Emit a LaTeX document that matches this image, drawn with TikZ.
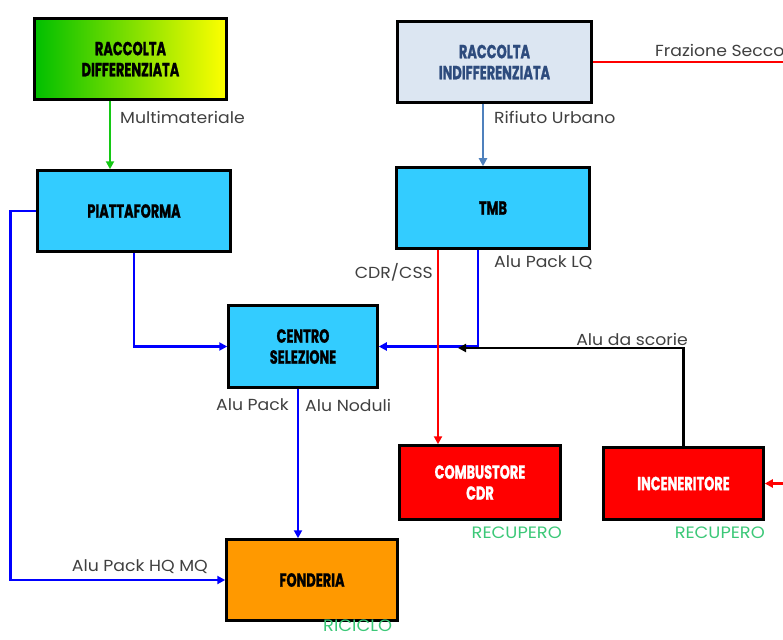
\documentclass[tikz,border=0pt]{standalone}
\usepackage{fontspec}
\setmainfont{Poppins}
\newfontfamily\boxfont{Poppins}[FakeStretch=0.68, FakeBold=1]
\newfontfamily\lblfont{Poppins}[FakeStretch=1.08]
\usetikzlibrary{arrows.meta,calc}
\definecolor{celeste}{RGB}{51,204,255}
\definecolor{grigioblu}{RGB}{220,230,242}
\definecolor{blunotte}{RGB}{45,75,125}
\definecolor{arancio}{RGB}{255,153,0}
\definecolor{verdefreccia}{RGB}{20,200,20}
\definecolor{bluacciaio}{RGB}{79,129,189}
\definecolor{grigiotesto}{RGB}{64,64,64}
\definecolor{verdeesito}{RGB}{60,200,120}
\begin{document}
\begin{tikzpicture}[x=1pt, y=-1pt, >={Triangle[length=8pt,width=8pt]},
  box/.style={draw=black, line width=2.5pt, align=center, inner sep=0pt, font=\boxfont\bfseries\fontsize{19}{21}\selectfont},
  lbl/.style={text=grigiotesto, inner sep=0pt, font=\lblfont\fontsize{16}{18}\selectfont},
  esito/.style={text=verdeesito, inner sep=0pt, font=\lblfont\fontsize{16.5}{18}\selectfont},
  flow/.style={line width=2.5pt}]
\useasboundingbox (0,0) rectangle (783,639);
\node[box, left color=green!75!black, right color=yellow, minimum width=192pt, minimum height=81pt] (diff) at (130.5,59) {RACCOLTA\\DIFFERENZIATA};
\node[box, fill=grigioblu, text=blunotte, minimum width=194pt, minimum height=81pt] (indiff) at (494.5,62) {RACCOLTA\\INDIFFERENZIATA};
\node[box, fill=celeste, minimum width=193pt, minimum height=81pt] (piatt) at (134,211) {PIATTAFORMA};
\node[box, fill=celeste, minimum width=193pt, minimum height=81pt] (tmb) at (493,208) {TMB};
\node[box, fill=celeste, minimum width=149pt, minimum height=82pt] (centro) at (303,346.5) {CENTRO\\SELEZIONE};
\node[box, fill=red, text=white, minimum width=161pt, minimum height=74pt] (comb) at (480,482.5) {COMBUSTORE\\CDR};
\node[box, fill=red, text=white, minimum width=160pt, minimum height=72pt] (incen) at (683.5,483.5) {INCENERITORE};
\node[box, fill=arancio, minimum width=171pt, minimum height=81pt] (fond) at (312,580) {FONDERIA};
\coordinate (m1) at ($(diff.south)+(-20.5,0)$);
\coordinate (r1) at ($(indiff.south)+(-11.5,0)$);
\coordinate (t1) at ($(tmb.south)+(-55,0)$);
\coordinate (t2) at ($(tmb.south)+(-15,0)$);
\coordinate (c1) at ($(centro.south)+(-5,0)$);
\coordinate (p1) at ($(piatt.west)+(-26,0)$);
\coordinate (secco) at (790,62);
\coordinate (secco2) at (790,483.5);
\coordinate (scorie) at (458,348);
\draw[flow, verdefreccia, ->] (m1) -- (m1 |- piatt.north);
\draw[flow, bluacciaio, ->] (r1) -- (r1 |- tmb.north);
\draw[flow, red] (indiff.east) -- (secco);
\draw[flow, red, ->] (secco2) -- (incen.east);
\draw[flow, blue, ->] (piatt.west) -- (p1) |- (fond.west);
\draw[flow, blue, ->] (piatt.south) |- (centro.west);
\draw[flow, blue, ->] (t2) |- (centro.east);
\draw[flow, black, ->] (incen.north) |- (scorie);
\draw[flow, red, ->] (t1) -- (t1 |- comb.north);
\draw[flow, blue, ->] (c1) -- (c1 |- fond.north);
\node[lbl, anchor=west] (l1) at (120,117) {Multimateriale};
\node[lbl, anchor=west] (l2) at (494,117) {Rifiuto Urbano};
\node[lbl, anchor=west] (l3) at (655,50) {Frazione Secco};
\node[lbl, anchor=east] (l4) at (433,272) {CDR/CSS};
\node[lbl, anchor=west] (l5) at (494,263) {Alu Pack LQ};
\node[lbl, anchor=east] (l6) at (688,339) {Alu da scorie};
\node[lbl, anchor=east] (l7) at (289,405) {Alu Pack};
\node[lbl, anchor=west] (l8) at (305,405) {Alu Noduli};
\node[lbl, anchor=east] (l9) at (208,567) {Alu Pack HQ MQ};
\node[esito, anchor=east] (e1) at (562,533) {RECUPERO};
\node[esito, anchor=east] (e2) at (765,533) {RECUPERO};
\node[esito, anchor=west] (e3) at (323,626) {RICICLO};
\end{tikzpicture}
\end{document}
